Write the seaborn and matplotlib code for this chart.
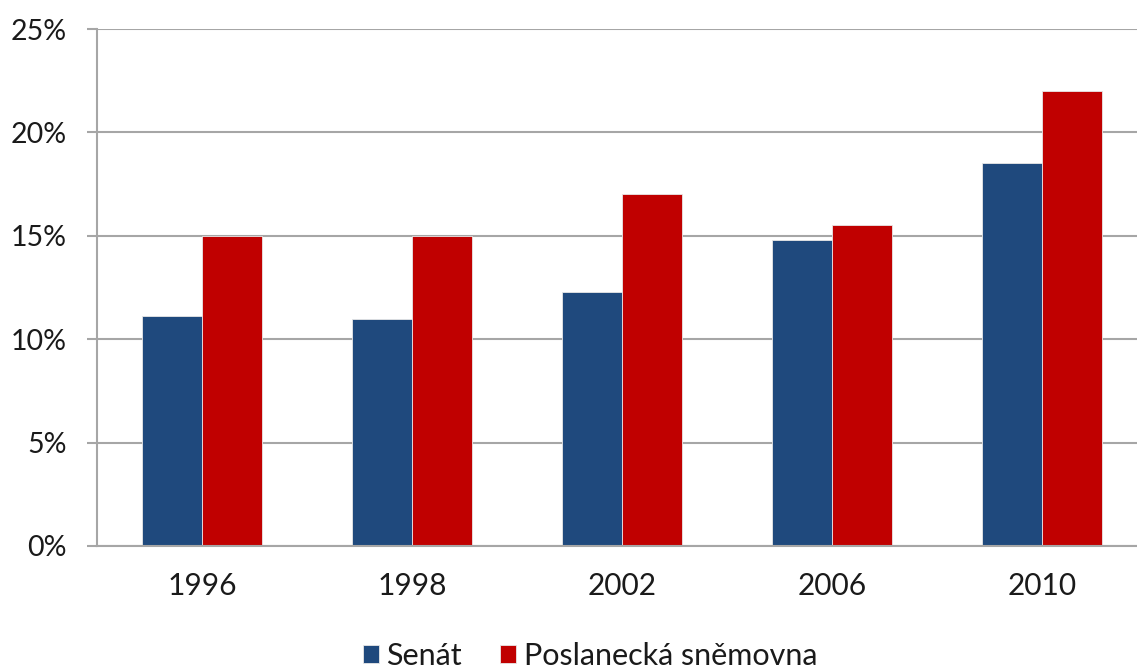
import matplotlib
matplotlib.use("Agg")
import matplotlib.pyplot as plt
import matplotlib.ticker as mticker
import pandas as pd
import seaborn as sns

# Share of women in the two chambers of the Czech parliament (%)
years = ["1996", "1998", "2002", "2006", "2010"]
senat = [11.1, 11.0, 12.3, 14.8, 18.5]
snemovna = [15.0, 15.0, 17.0, 15.5, 22.0]
series_names = ["Senát", "Poslanecká sněmovna"]
y_ticks = [0, 5, 10, 15, 20, 25]

df = pd.DataFrame({
    "rok": years * 2,
    "podil": senat + snemovna,
    "komora": [series_names[0]] * len(years) + [series_names[1]] * len(years),
})

sns.set_theme(style="white")
plt.rcParams["font.family"] = ["Lato", "DejaVu Sans"]

fig = plt.figure(figsize=(11.37, 6.70), dpi=100)
ax = fig.add_axes([97 / 1137, 124 / 670, 1050 / 1137, 517 / 670])

sns.barplot(
    data=df, x="rok", y="podil", hue="komora",
    palette=["#1F497D", "#C00000"], saturation=1,
    width=0.57, gap=0, edgecolor="#e8e8e8", linewidth=0.6,
    ax=ax, legend=True,
)

ax.set_xlim(-0.5, len(years) - 0.5)
ax.set_ylim(0, 25)
ax.set_yticks(y_ticks)
ax.yaxis.set_major_formatter(mticker.FuncFormatter(lambda v, _: f"{int(v)}%"))
ax.set_xlabel("")
ax.set_ylabel("")

grid_col = "#a6a6a6"
ax.yaxis.grid(True, color=grid_col, linewidth=1.5)
ax.set_axisbelow(True)
for side in ("top", "right"):
    ax.spines[side].set_visible(False)
for side in ("left", "bottom"):
    ax.spines[side].set_color(grid_col)
    ax.spines[side].set_linewidth(1.5)

# category separators on the x axis, labels centred between them
ax.set_xticks([i - 0.5 for i in range(len(years) + 1)], minor=True)
ax.tick_params(axis="x", which="minor", length=8, width=1.5, color=grid_col, direction="out")
ax.tick_params(axis="x", which="major", length=0, pad=19, labelsize=21.5, labelcolor="#1a1a1a")
ax.tick_params(axis="y", which="major", length=7, width=1.5, color=grid_col,
               direction="out", pad=15, labelsize=20.5, labelcolor="#1a1a1a", left=True)

handles, labels = ax.get_legend_handles_labels()
ax.get_legend().remove()
fig.legend(
    handles, labels, loc="center", bbox_to_anchor=(0.519, 0.021),
    ncol=2, frameon=False, fontsize=22, handlelength=0.52, handleheight=0.52,
    handletextpad=0.25, columnspacing=1.25, labelcolor="#1a1a1a",
)

fig.savefig("out.png", dpi=100)
